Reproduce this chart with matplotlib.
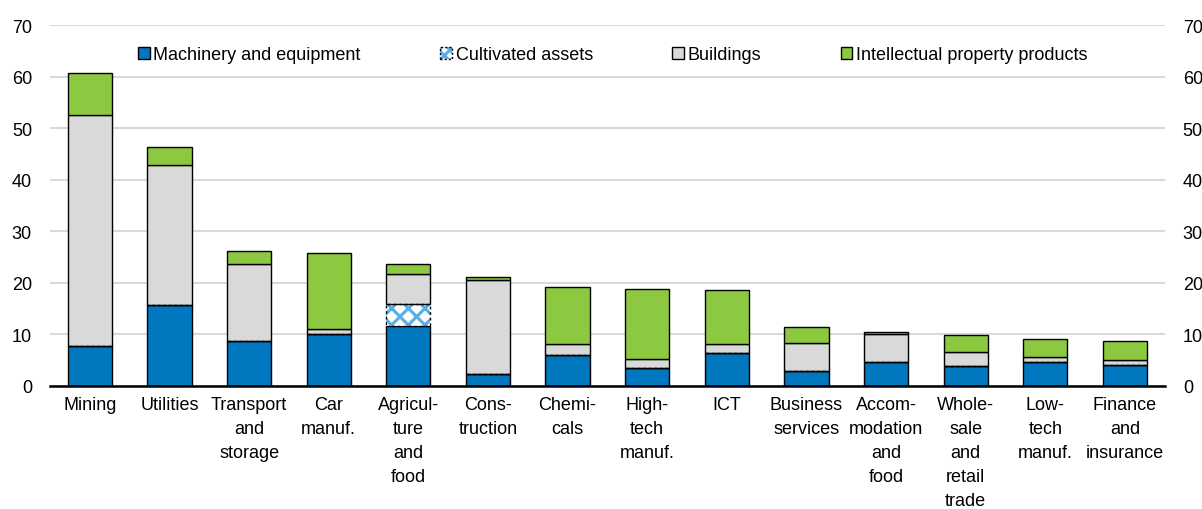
import matplotlib
matplotlib.use("Agg")
import matplotlib.pyplot as plt
from matplotlib.patches import Patch
from matplotlib import font_manager
import numpy as np

# sectors, sorted as in the chart
sectors = ["Mining", "Utilities", "Transport\nand\nstorage", "Car\nmanuf.",
           "Agricul-\nture\nand\nfood", "Cons-\ntruction", "Chemi-\ncals",
           "High-\ntech\nmanuf.", "ICT", "Business\nservices",
           "Accom-\nmodation\nand\nfood", "Whole-\nsale\nand\nretail\ntrade",
           "Low-\ntech\nmanuf.", "Finance\nand\ninsurance"]

machinery = [7.8, 15.8, 8.8, 10.0, 11.6, 2.4, 6.0, 3.5, 6.4, 2.9, 4.7, 3.8, 4.7, 4.0]
cultivated = [0, 0, 0, 0, 4.3, 0, 0, 0, 0, 0, 0, 0, 0, 0]
buildings = [44.7, 27.0, 14.9, 1.0, 5.9, 18.1, 2.1, 1.7, 1.7, 5.5, 5.3, 2.8, 1.0, 1.0]
ipp = [8.2, 3.6, 2.5, 14.7, 1.8, 0.6, 11.1, 13.6, 10.5, 3.1, 0.5, 3.3, 3.4, 3.8]

legend_labels = ["Machinery and equipment", "Cultivated assets", "Buildings",
                 "Intellectual property products"]

BLUE = "#0077be"
HATCH_BLUE = "#5aaee6"
GREY = "#d9d9d9"
GREEN = "#8cc840"

installed = {f.name for f in font_manager.fontManager.ttflist}
fam = "Liberation Sans Narrow" if "Liberation Sans Narrow" in installed else "Liberation Sans"
plt.rcParams["font.family"] = [fam, "DejaVu Sans"]
plt.rcParams["font.size"] = 13
plt.rcParams["hatch.linewidth"] = 2.2

fig = plt.figure(figsize=(12.02, 5.1), dpi=100)
ax = fig.add_axes([0.0416, 0.2412, 0.9274, 0.7078])

x = np.arange(len(sectors))
w = 0.555
m = np.array(machinery)
c = np.array(cultivated)
b = np.array(buildings)
p = np.array(ipp)

ax.bar(x, m, w, color=BLUE, edgecolor="black", linewidth=1, zorder=3)
# cultivated assets: hatch drawn in blue, then a dashed black outline on top
ax.bar(x, c, w, bottom=m, color="white", edgecolor=HATCH_BLUE, hatch="xx",
       linewidth=0, zorder=3)
ax.bar(x, c, w, bottom=m, fill=False, edgecolor="black", linewidth=1,
       linestyle=(0, (2, 2)), zorder=4)
ax.bar(x, b, w, bottom=m + c, color=GREY, edgecolor="black", linewidth=1, zorder=3)
ax.bar(x, p, w, bottom=m + c + b, color=GREEN, edgecolor="black", linewidth=1, zorder=3)

ax.set_xlim(-0.5, len(sectors) - 0.5)
ax.set_ylim(0, 70)
ax.set_yticks(range(0, 71, 10))
ax.yaxis.grid(True, color="#d9d9d9", linewidth=1.5, zorder=0)
ax.set_axisbelow(True)
for s in ["left", "right", "top"]:
    ax.spines[s].set_visible(False)
ax.spines["bottom"].set_linewidth(1.8)
ax.spines["bottom"].set_zorder(5)

ax.set_xticks(x)
ax.set_xticklabels(sectors, linespacing=1.55, va="top")
ax.tick_params(axis="x", length=0, pad=7)
ax.tick_params(axis="y", length=0, pad=13, labelright=True, labelleft=True)

cult_handle = (Patch(facecolor="white", edgecolor=HATCH_BLUE, hatch="xxx", linewidth=0),
               Patch(fill=False, edgecolor="black", linewidth=1, linestyle=(0, (1.5, 1.5))))
handles = [Patch(facecolor=BLUE, edgecolor="black", linewidth=1),
           cult_handle,
           Patch(facecolor=GREY, edgecolor="black", linewidth=1),
           Patch(facecolor=GREEN, edgecolor="black", linewidth=1)]
ax.legend(handles, legend_labels, ncol=4, frameon=False, loc="center left",
          bbox_to_anchor=(0.079, 0.918), borderpad=0, borderaxespad=0,
          handlelength=0.65, handleheight=0.65, handletextpad=0.2,
          columnspacing=4.4, fontsize=13)

fig.savefig("out.png", dpi=100)
